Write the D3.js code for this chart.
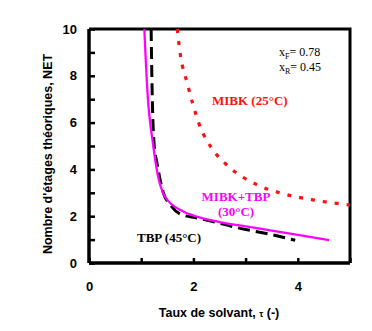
<!DOCTYPE html>
<html lang="en">
<head>
    <meta charset="utf-8">
    <title>NET vs taux de solvant</title>
    <style>
        body { margin: 0; background: #fff; }
        .tick text { font-family: "Liberation Sans", Arial, sans-serif; font-weight: bold; font-size: 13px; }
        .serif { font-family: "Liberation Serif", "Times New Roman", serif; }
    </style>
</head>
<body>
    <svg id="chart" width="372" height="331"></svg>
    <script src="https://d3js.org/d3.v7.min.js"></script>
    <script>
        // curves
        const tbpX = [1.19, 1.21, 1.25, 1.30, 1.42, 1.56, 1.75, 2.08, 2.48, 2.9, 3.42, 3.95]
        const tbpY = [10, 7.3, 5.0, 4.3, 3.03, 2.48, 2.09, 1.92, 1.71, 1.48, 1.25, 0.97]

        const mixX = [1.06, 1.12, 1.23, 1.31, 1.46, 1.79, 2.08, 2.5, 3.0, 3.5, 4.0, 4.6]
        const mixY = [10, 7.3, 5.04, 3.85, 2.82, 2.22, 1.97, 1.75, 1.57, 1.38, 1.2, 0.98]

        const mibkX = [1.69, 1.75, 1.88, 2.1, 2.42, 2.62, 3.23, 3.67, 4.31, 5.0]
        const mibkY = [10, 8.9, 7.7, 6.0, 4.7, 4.23, 3.33, 2.99, 2.69, 2.48]

        const xTicks = [0, 1, 2, 3, 4, 5]
        const yTicks = [0, 1, 2, 3, 4, 5, 6, 7, 8, 9, 10]

        const margin = { left: 89, top: 29, right: 22, bottom: 68 }
        const W = 372, H = 331
        const svg = d3.select('#chart')
        const g = svg.append('g').attr('transform', `translate(${margin.left},${margin.top})`)
        const w = W - margin.left - margin.right
        const h = H - margin.top - margin.bottom

        const x = d3.scaleLinear().domain([0, 5]).range([0, w])
        const y = d3.scaleLinear().domain([0, 10]).range([h, 0])

        // frame (top and right)
        g.append('path')
            .attr('d', `M0,0H${w}V${h}`)
            .attr('fill', 'none').attr('stroke', '#000').attr('stroke-width', 3)

        const xAxis = g.append('g').attr('transform', `translate(0,${h})`)
            .call(d3.axisBottom(x).tickValues(xTicks).tickSize(-5).tickPadding(19)
                .tickFormat(d => (d % 2 === 0 && d < 5) ? d : ''))
        const yAxis = g.append('g')
            .call(d3.axisLeft(y).tickValues(yTicks).tickSize(-6).tickPadding(12)
                .tickFormat(d => d % 2 === 0 ? d : ''))
        ;[xAxis, yAxis].forEach(a => {
            a.select('.domain').attr('stroke-width', 3.5).attr('d', a === xAxis ? `M0,0H${w}` : `M0,0V${h}`)
            a.selectAll('.tick line').attr('stroke-width', 2.5)
            a.selectAll('.tick text').attr('fill', '#000')
        })

        const line = d3.line().x(d => x(d[0])).y(d => y(d[1])).curve(d3.curveMonotoneX)

        g.append('path').datum(d3.zip(mibkX, mibkY)).attr('d', line)
            .attr('fill', 'none').attr('stroke', '#ff1010').attr('stroke-width', 3.2)
            .attr('stroke-dasharray', '4,8')
        g.append('path').datum(d3.zip(tbpX, tbpY)).attr('d', line)
            .attr('fill', 'none').attr('stroke', '#000').attr('stroke-width', 3)
            .attr('stroke-dasharray', '12,6')
        g.append('path').datum(d3.zip(mixX, mixY)).attr('d', line)
            .attr('fill', 'none').attr('stroke', '#ff00ff').attr('stroke-width', 2.3)

        // labels
        const t1 = svg.append('text').attr('class', 'serif').attr('x', 279).attr('y', 56).attr('font-size', 12)
        t1.append('tspan').text('x')
        t1.append('tspan').text('F').attr('font-size', 8).attr('dy', 3)
        t1.append('tspan').text('= 0.78').attr('dy', -3)
        const t2 = svg.append('text').attr('class', 'serif').attr('x', 279).attr('y', 71).attr('font-size', 12)
        t2.append('tspan').text('x')
        t2.append('tspan').text('R').attr('font-size', 8).attr('dy', 3)
        t2.append('tspan').text('= 0.45').attr('dy', -3)

        svg.append('text').attr('class', 'serif').attr('x', 212).attr('y', 105)
            .attr('font-size', 13).attr('font-weight', 'bold').attr('fill', '#ff1010').text('MIBK (25°C)')
        svg.append('text').attr('class', 'serif').attr('x', 236).attr('y', 201).attr('text-anchor', 'middle')
            .attr('font-size', 13).attr('font-weight', 'bold').attr('fill', '#ff00ff').text('MIBK+TBP')
        svg.append('text').attr('class', 'serif').attr('x', 236).attr('y', 216).attr('text-anchor', 'middle')
            .attr('font-size', 13).attr('font-weight', 'bold').attr('fill', '#ff00ff').text('(30°C)')
        svg.append('text').attr('class', 'serif').attr('x', 137).attr('y', 242)
            .attr('font-size', 13).attr('font-weight', 'bold').attr('fill', '#000').text('TBP (45°C)')

        // axis titles
        const xt = svg.append('text').attr('x', 219).attr('y', 317).attr('text-anchor', 'middle')
            .attr('font-family', 'Liberation Sans, Arial, sans-serif').attr('font-weight', 'bold').attr('font-size', 12.5)
        xt.append('tspan').text('Taux de solvant, ')
        xt.append('tspan').text('τ').attr('font-size', 9)
        xt.append('tspan').text(' (-)')

        svg.append('text')
            .attr('transform', 'translate(52,154) rotate(-90)')
            .attr('text-anchor', 'middle')
            .attr('font-family', 'Liberation Sans, Arial, sans-serif').attr('font-weight', 'bold').attr('font-size', 12.5)
            .text("Nombre d'étages théoriques, NET")
    </script>
</body>
</html>
